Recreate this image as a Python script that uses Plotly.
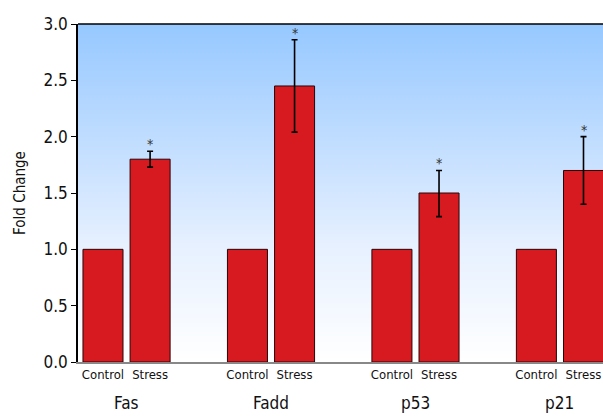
import plotly.graph_objects as go
import numpy as np

# Data
genes = ["Fas", "Fadd", "p53", "p21"]
conditions = ["Control", "Stress"]
control_vals = [1.0, 1.0, 1.0, 1.0]
stress_vals = [1.8, 2.45, 1.5, 1.7]
stress_err_plus = [0.07, 0.41, 0.20, 0.30]
stress_err_minus = [0.07, 0.41, 0.21, 0.30]
significant = ["*", "*", "*", "*"]

offset = 0.163
bar_w = 0.277
group_x = np.arange(len(genes), dtype=float)
ctrl_x = group_x - offset
str_x = group_x + offset

x_range = [-0.336, 3.298]
y_range = [0, 3.0]

fig = go.Figure()

# Vertical gradient background (light blue at top fading to white)
ys = np.linspace(0, 3, 61)
fig.add_trace(go.Heatmap(
    x=[-1.0, 4.5], y=ys, z=[[v, v] for v in ys],
    colorscale=[[0, "#ffffff"], [0.35, "#e6f0ff"], [1, "#96c8ff"]],
    zmin=0, zmax=3, showscale=False, zsmooth="best", hoverinfo="skip",
))

bar_color = "#d71920"
line_color = "#2a0505"

fig.add_trace(go.Bar(
    x=ctrl_x, y=control_vals, width=bar_w,
    marker=dict(color=bar_color, line=dict(color=line_color, width=1)),
    showlegend=False,
))
fig.add_trace(go.Bar(
    x=str_x, y=stress_vals, width=bar_w,
    marker=dict(color=bar_color, line=dict(color=line_color, width=1)),
    error_y=dict(type="data", symmetric=False, array=stress_err_plus,
                 arrayminus=stress_err_minus, color="#000000",
                 thickness=1.6, width=3),
    showlegend=False,
))

font_family = "DejaVu Sans Condensed, Liberation Sans Narrow, sans-serif"

# Significance markers above the error bars
for xv, yv, ep, s in zip(str_x, stress_vals, stress_err_plus, significant):
    fig.add_annotation(x=xv, y=yv + ep, text=s, showarrow=False,
                       yshift=7, font=dict(size=14, color="#333333", family=font_family))

# Gene names under the condition labels
for xv, g in zip(group_x, genes):
    fig.add_annotation(x=xv, y=0, xref="x", yref="paper", text=g, showarrow=False,
                       yshift=-53, font=dict(size=17, color="#111111", family=font_family))

# Top border line
fig.add_shape(type="line", xref="paper", yref="paper", x0=0, x1=1, y0=1, y1=1,
              line=dict(color="#000000", width=1.5))

tick_vals = []
tick_text = []
for c, s in zip(ctrl_x, str_x):
    tick_vals += [c, s]
    tick_text += conditions

fig.update_layout(
    width=603, height=416,
    margin=dict(l=78, r=0, t=24, b=54),
    paper_bgcolor="#ffffff",
    plot_bgcolor="#ffffff",
    barmode="overlay",
    font=dict(family=font_family, color="#111111"),
    xaxis=dict(
        range=x_range, tickvals=tick_vals, ticktext=tick_text,
        tickfont=dict(size=13, family=font_family), ticks="", showgrid=False,
        zeroline=False, showline=True, linecolor="#888888", linewidth=1.5,
    ),
    yaxis=dict(
        range=y_range, tickvals=[0, 0.5, 1.0, 1.5, 2.0, 2.5, 3.0],
        tickformat=".1f", ticks="outside", ticklen=5, tickwidth=1.2,
        tickcolor="#000000", tickfont=dict(size=17, family=font_family),
        showline=True, linecolor="#000000", linewidth=1.5,
        showgrid=False, zeroline=False,
        title=dict(text="Fold Change", font=dict(size=15, family=font_family), standoff=14),
    ),
)

fig.write_html("out.html")
